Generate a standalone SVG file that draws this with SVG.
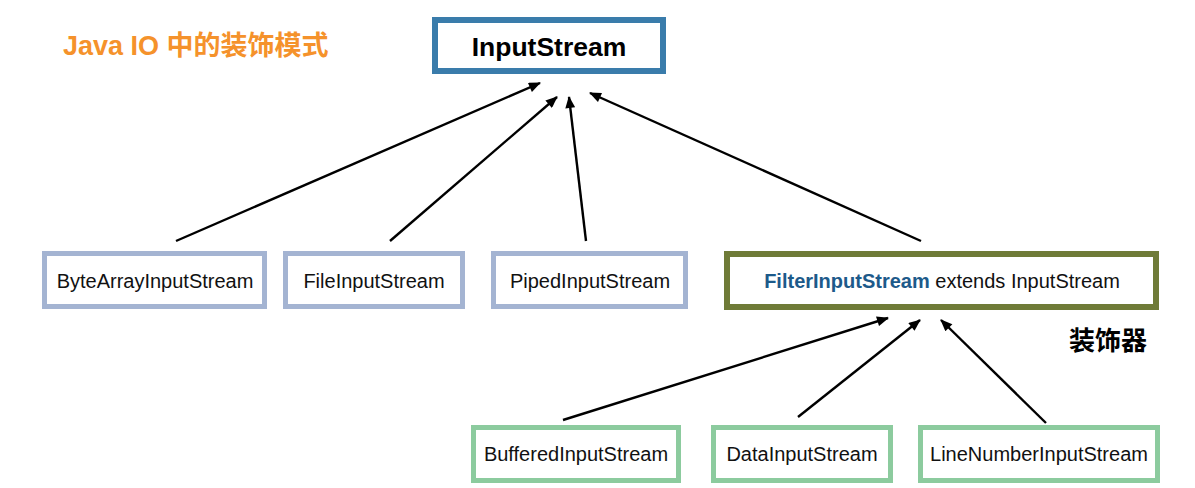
<svg xmlns="http://www.w3.org/2000/svg" width="1195" height="488" viewBox="0 0 1195 488">
<style>
.t{font-family:"Liberation Sans",Arial,sans-serif;font-size:20px;fill:#111;text-anchor:middle}
.b{fill:#fff;stroke-width:5}
.row{stroke:#a4b4d2}
.dec{stroke:#8ccb9e}
.c{stroke:#000;stroke-width:2.4;fill:none;marker-end:url(#ah)}
</style>
<defs>
<marker id="ah" viewBox="0 0 12 10" refX="11" refY="5" markerWidth="13" markerHeight="10" markerUnits="userSpaceOnUse" orient="auto">
<path d="M0,0 L12,5 L0,10 z" fill="#000"/>
</marker>
</defs>
<rect width="1195" height="488" fill="#fff"/>
<text x="63" y="55" font-family="'Liberation Sans','Noto Sans CJK SC',sans-serif" font-size="27" font-weight="bold" fill="#f5922b">Java IO 中的装饰模式</text>
<g id="inputstream">
<rect x="435" y="20" width="228" height="51" fill="#fff" stroke="#3a7cab" stroke-width="6"/>
<text x="549" y="56" font-family="'Liberation Sans',Arial,sans-serif" font-size="26.5" font-weight="bold" fill="#000" text-anchor="middle">InputStream</text>
</g>
<g id="bytearray"><rect class="b row" x="44.5" y="253.5" width="220" height="53"/><text class="t" x="155" y="288">ByteArrayInputStream</text></g>
<g id="file"><rect class="b row" x="285.5" y="253.5" width="177" height="53"/><text class="t" x="374" y="288">FileInputStream</text></g>
<g id="piped"><rect class="b row" x="493.5" y="253.5" width="192" height="53"/><text class="t" x="590" y="288">PipedInputStream</text></g>
<g id="filter"><rect x="727" y="254" width="429" height="53" fill="#fff" stroke="#6f7b38" stroke-width="6"/>
<text class="t" x="942" y="288"><tspan font-weight="bold" fill="#1d5a8a">FilterInputStream</tspan> extends InputStream</text></g>
<text x="1069" y="350" font-family="'Noto Sans CJK SC',sans-serif" font-size="26" font-weight="bold" fill="#000">装饰器</text>
<g id="buffered"><rect class="b dec" x="473.5" y="427.5" width="205" height="53"/><text class="t" x="576" y="461">BufferedInputStream</text></g>
<g id="data"><rect class="b dec" x="713.5" y="427.5" width="177" height="53"/><text class="t" x="802" y="461">DataInputStream</text></g>
<g id="linenumber"><rect class="b dec" x="920.5" y="427.5" width="237" height="53"/><text class="t" x="1039" y="461">LineNumberInputStream</text></g>
<g id="connectors">
<line class="c" x1="176" y1="241" x2="540" y2="83"/>
<line class="c" x1="390" y1="241" x2="557" y2="97"/>
<line class="c" x1="586" y1="241" x2="569" y2="97"/>
<line class="c" x1="921" y1="241" x2="590" y2="93"/>
<line class="c" x1="563" y1="420" x2="888" y2="318"/>
<line class="c" x1="798" y1="417" x2="920" y2="320"/>
<line class="c" x1="1046" y1="423" x2="941" y2="320"/>
</g>
</svg>
